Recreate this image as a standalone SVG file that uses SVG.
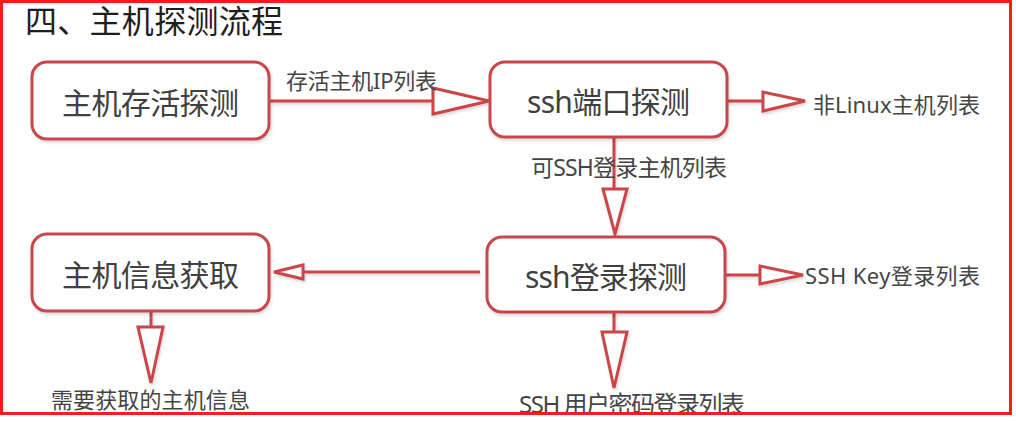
<svg xmlns="http://www.w3.org/2000/svg" width="1016" height="422" viewBox="0 0 1016 422">
  <defs>
    <filter id="sh" x="-10%" y="-10%" width="120%" height="130%">
      <feDropShadow dx="1" dy="2" stdDeviation="1.5" flood-color="#000" flood-opacity="0.16"/>
    </filter>
    <clipPath id="inside">
      <rect x="0" y="0" width="1016" height="413"/>
    </clipPath>
  </defs>
  <style>
    .node rect { fill: #ffffff; stroke: #c8474b; stroke-width: 3; }
    .ntext { font-family: "Noto Sans", "Noto Sans CJK SC", sans-serif; font-size: 30px; fill: #404040; text-anchor: middle; }
    .lbl { font-family: "Noto Sans", "Noto Sans CJK SC", sans-serif; font-size: 22px; fill: #454545; }
    .title { font-family: "Noto Sans", "Noto Sans CJK SC", sans-serif; font-size: 32px; fill: #1e1e1e; }
    .conn line { stroke: #cc4548; stroke-width: 3; fill: none; }
    .conn polygon { fill: #ffffff; stroke: #cc4548; stroke-width: 3; stroke-linejoin: miter; }
  </style>
  <rect x="0" y="0" width="1016" height="422" fill="#ffffff"/>

  <text class="title" x="25" y="33" textLength="258" lengthAdjust="spacing">四、主机探测流程</text>

  <g id="connectors" class="conn" filter="url(#sh)">
    <line x1="270" y1="101" x2="433" y2="101"/>
    <polygon points="433,88 433,114 489,101"/>
    <line x1="727" y1="101" x2="763" y2="101"/>
    <polygon points="763,92 763,111 805,101"/>
    <line x1="614" y1="137" x2="614" y2="189"/>
    <polygon points="603,189 627,189 615,234"/>
    <line x1="725" y1="275" x2="760" y2="275"/>
    <polygon points="760,266 760,284 803,275"/>
    <line x1="614" y1="312" x2="614" y2="332"/>
    <polygon points="602,332 627,332 614,388"/>
    <line x1="480" y1="272" x2="303" y2="272"/>
    <polygon points="303,265 303,279 274,272"/>
    <line x1="151" y1="311" x2="151" y2="327"/>
    <polygon points="138,327 163,327 151,383"/>
  </g>

  <g id="labels" clip-path="url(#inside)">
    <text class="lbl" x="286" y="89" textLength="151" lengthAdjust="spacing">存活主机IP列表</text>
    <text class="lbl" x="813" y="113" textLength="167" lengthAdjust="spacing">非Linux主机列表</text>
    <text class="lbl" x="531" y="176" style="font-size:23px" textLength="196" lengthAdjust="spacing">可SSH登录主机列表</text>
    <text class="lbl" x="805" y="284" textLength="175" lengthAdjust="spacing">SSH Key登录列表</text>
    <text class="lbl" x="519" y="413" style="font-size:24px" textLength="226" lengthAdjust="spacing">SSH 用户密码登录列表</text>
    <text class="lbl" x="51" y="408" textLength="199" lengthAdjust="spacing">需要获取的主机信息</text>
  </g>

  <g id="node-alive" class="node">
    <rect x="32" y="62" width="237" height="77" rx="15" filter="url(#sh)"/>
    <text class="ntext" x="150.5" y="114" textLength="177" lengthAdjust="spacing">主机存活探测</text>
  </g>
  <g id="node-sshport" class="node">
    <rect x="490" y="62" width="237" height="75" rx="15" filter="url(#sh)"/>
    <text class="ntext" x="608.5" y="113" textLength="163" lengthAdjust="spacing">ssh端口探测</text>
  </g>
  <g id="node-sshlogin" class="node">
    <rect x="487" y="237" width="238" height="75" rx="15" filter="url(#sh)"/>
    <text class="ntext" x="606" y="288" textLength="162" lengthAdjust="spacing">ssh登录探测</text>
  </g>
  <g id="node-info" class="node">
    <rect x="32" y="234" width="237" height="77" rx="15" filter="url(#sh)"/>
    <text class="ntext" x="150.5" y="286" textLength="177" lengthAdjust="spacing">主机信息获取</text>
  </g>

  <rect id="frame" x="1.5" y="1.5" width="1009" height="412" fill="none" stroke="#ff1a1a" stroke-width="3"/>
</svg>
